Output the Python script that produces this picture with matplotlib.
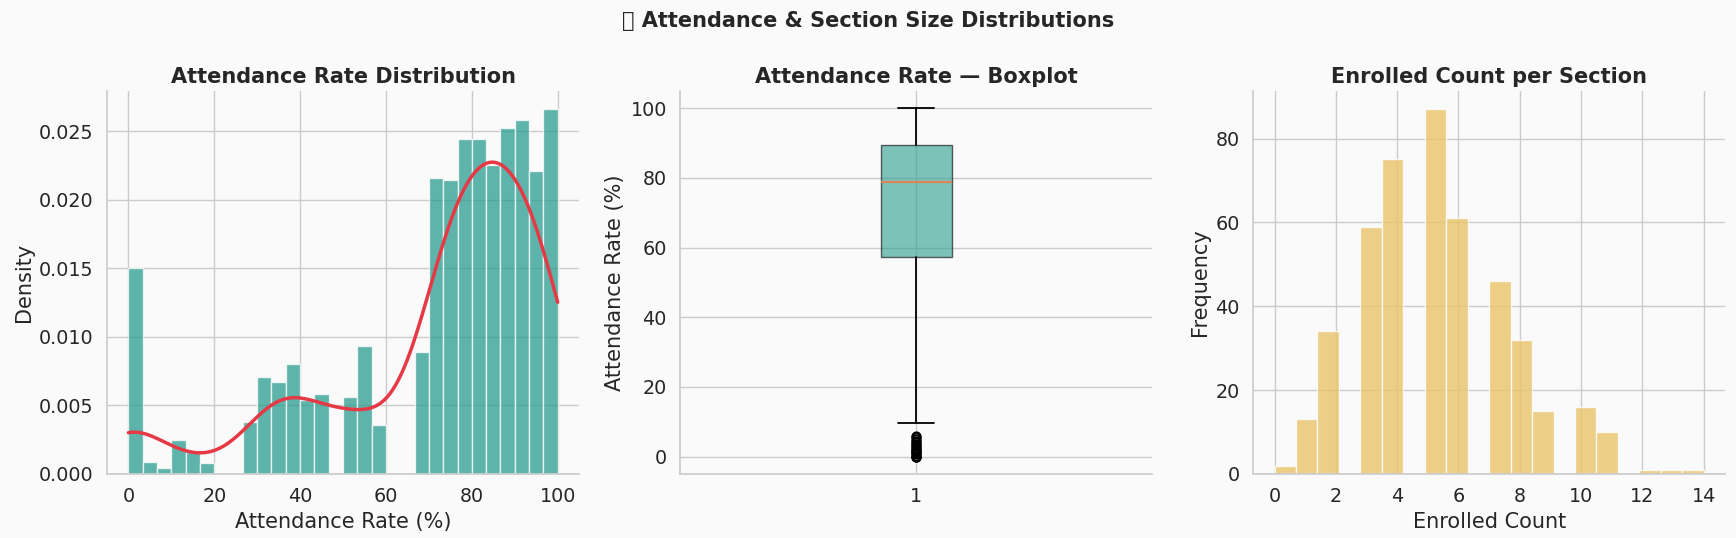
import numpy as np
import matplotlib
matplotlib.use("Agg")
import matplotlib.pyplot as plt
import seaborn as sns

# attendance histogram: 30 bins over 0-100, density per bin
att_edges = np.linspace(0, 100, 31)
att_density = [0.0150, 0.0009, 0.0004, 0.0025, 0.0016, 0.0008, 0.0, 0.0,
               0.0038, 0.0071, 0.0067, 0.0080, 0.0054, 0.0058, 0.0, 0.0056,
               0.0093, 0.0036, 0.0, 0.0, 0.0089, 0.0216, 0.0214, 0.0244,
               0.0244, 0.0225, 0.0252, 0.0258, 0.0221, 0.0266]

# boxplot summary of attendance rate
att_q1, att_med, att_q3 = 57.4, 78.8, 89.5
att_whislo, att_whishi = 9.5, 100.0
att_fliers = [0.0, 0.0, 0.0, 0.3, 0.6, 0.9, 1.2, 1.5, 1.8, 2.1, 2.5, 2.9,
              3.3, 3.7, 4.2, 4.6, 5.0, 5.5, 6.0]

# enrolled count per section
enrolled_values = list(range(15))
enrolled_counts = [2, 13, 34, 59, 75, 87, 61, 46, 32, 15, 16, 10, 1, 1, 1]

TEAL = "#2A9D8F"
SAND = "#E9C46A"
RED = "#E63946"
BG = "#FAFAFA"

sns.set_theme(style="whitegrid", font_scale=1.25)
plt.rcParams["figure.facecolor"] = BG
plt.rcParams["axes.facecolor"] = BG
plt.rcParams["font.family"] = ["DejaVu Sans", "Noto Sans CJK SC", "Noto Sans"]

fig = plt.figure(figsize=(17.36, 5.38), dpi=100)
h = 0.712
ax1 = fig.add_axes([0.0616, 0.119, 0.272, h])
ax2 = fig.add_axes([0.3917, 0.119, 0.272, h])
ax3 = fig.add_axes([0.7218, 0.119, 0.272, h])

# --- left: histogram + kde
centers = (att_edges[:-1] + att_edges[1:]) / 2
ax1.hist(centers, bins=att_edges, weights=att_density, color=TEAL, alpha=0.75,
         edgecolor="white", linewidth=1)
# kde from the binned values, end bins sit on the 0 / 100 limits
pts = centers.copy()
pts[0], pts[-1] = 0.0, 100.0
bw = att_edges[1] - att_edges[0]
mass = np.array(att_density) * bw
mass = mass / mass.sum()
grid = np.linspace(0, 100, 300)
band = 7.5
kde = (mass[None, :] * np.exp(-0.5 * ((grid[:, None] - pts[None, :]) / band) ** 2)).sum(axis=1)
kde = kde / (band * np.sqrt(2 * np.pi))
ax1.plot(grid, kde, color=RED, linewidth=2.5)
ax1.set_title("Attendance Rate Distribution", fontweight="bold")
ax1.set_xlabel("Attendance Rate (%)")
ax1.set_ylabel("Density")

# --- middle: boxplot
stats = [{"med": att_med, "q1": att_q1, "q3": att_q3,
          "whislo": att_whislo, "whishi": att_whishi, "fliers": att_fliers, "label": "1"}]
bp = ax2.bxp(stats, patch_artist=True,
             whiskerprops=dict(linewidth=1.3), capprops=dict(linewidth=1.3),
             medianprops=dict(linewidth=1.5),
             flierprops=dict(markeredgewidth=1.3))
for b in bp["boxes"]:
    b.set_facecolor(TEAL)
    b.set_alpha(0.6)
ax2.set_title("Attendance Rate — Boxplot", fontweight="bold")
ax2.set_ylabel("Attendance Rate (%)")
ax2.set_ylim(-5, 105)

# --- right: enrolled count histogram
ax3.hist(enrolled_values, bins=20, weights=enrolled_counts, color=SAND, alpha=0.8,
         edgecolor="white", linewidth=1)
ax3.set_title("Enrolled Count per Section", fontweight="bold")
ax3.set_xlabel("Enrolled Count")
ax3.set_ylabel("Frequency")

for ax in (ax1, ax2, ax3):
    ax.set_axisbelow(True)
    sns.despine(ax=ax)

fig.suptitle("📊 Attendance & Section Size Distributions", fontweight="bold", fontsize=15, y=0.98)

fig.savefig("out.png", dpi=100, facecolor=BG)
